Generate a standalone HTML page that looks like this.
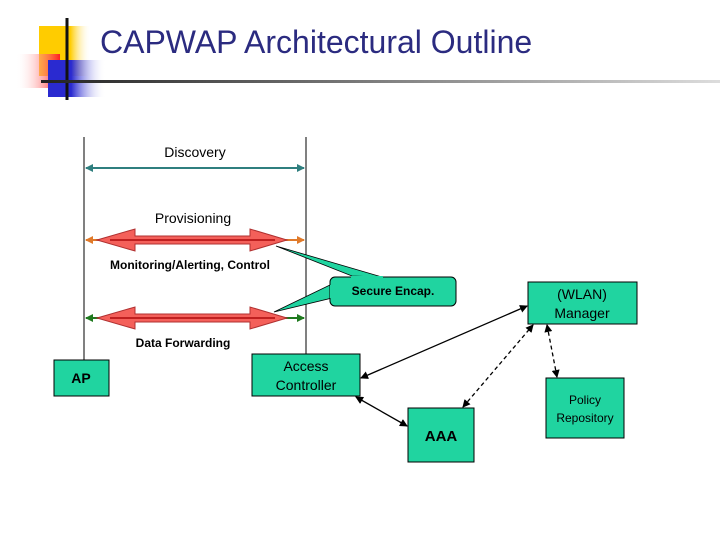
<!DOCTYPE html>
<html><head><style>
body{margin:0;width:720px;height:540px;background:#fff;overflow:hidden;font-family:"Liberation Sans",sans-serif}
</style></head><body>
<svg width="720" height="540" xmlns="http://www.w3.org/2000/svg" font-family="Liberation Sans, sans-serif">
<defs>
<linearGradient id="gy" x1="0" x2="1"><stop offset="0.6" stop-color="#ffcc00"/><stop offset="1" stop-color="#fff" stop-opacity="0"/></linearGradient>
<linearGradient id="gr" x1="1" x2="0"><stop offset="0" stop-color="#ff2020"/><stop offset="1" stop-color="#fff" stop-opacity="0"/></linearGradient>
<linearGradient id="gb" x1="0" x2="1"><stop offset="0.4" stop-color="#2a2ad0"/><stop offset="1" stop-color="#fff" stop-opacity="0"/></linearGradient>
<linearGradient id="gl" x1="0" x2="1"><stop offset="0" stop-color="#222"/><stop offset="1" stop-color="#ddd"/></linearGradient>
<marker id="ab" markerWidth="8" markerHeight="8" refX="7" refY="4" orient="auto-start-reverse" markerUnits="userSpaceOnUse"><path d="M0,0 L8,4 L0,8z" fill="#000"/></marker>
<marker id="at" markerWidth="8" markerHeight="8" refX="7" refY="4" orient="auto-start-reverse" markerUnits="userSpaceOnUse"><path d="M0,0 L8,4 L0,8z" fill="#2f7f7f"/></marker>
<marker id="ao" markerWidth="8" markerHeight="8" refX="7" refY="4" orient="auto-start-reverse" markerUnits="userSpaceOnUse"><path d="M0,0 L8,4 L0,8z" fill="#e07a2a"/></marker>
<marker id="ag" markerWidth="8" markerHeight="8" refX="7" refY="4" orient="auto-start-reverse" markerUnits="userSpaceOnUse"><path d="M0,0 L8,4 L0,8z" fill="#1f7a1f"/></marker>
</defs>
<rect x="39" y="26" width="52" height="50" fill="url(#gy)"/>
<rect x="16" y="54" width="44" height="34" fill="url(#gr)"/>
<rect x="48" y="60" width="58" height="37" fill="url(#gb)"/>
<line x1="67" y1="18" x2="67" y2="100" stroke="#111" stroke-width="3"/>
<rect x="41" y="80" width="680" height="3" fill="url(#gl)"/>
<text x="100" y="53" font-size="32" fill="#2b2b80">CAPWAP Architectural Outline</text>
<line x1="84" y1="137" x2="84" y2="360" stroke="#000"/>
<line x1="306" y1="137" x2="306" y2="354" stroke="#000"/>
<text x="195" y="157" font-size="14" text-anchor="middle">Discovery</text>
<line x1="86" y1="168" x2="304" y2="168" stroke="#2f7f7f" stroke-width="2" marker-start="url(#at)" marker-end="url(#at)"/>
<text x="193" y="223" font-size="14" text-anchor="middle">Provisioning</text>
<line x1="86" y1="240" x2="304" y2="240" stroke="#e07a2a" stroke-width="2" marker-start="url(#ao)" marker-end="url(#ao)"/>
<line x1="86" y1="318" x2="304" y2="318" stroke="#1f7a1f" stroke-width="2" marker-start="url(#ag)" marker-end="url(#ag)"/>
<path d="M97,240 L135,229 L135,236 L250,236 L250,229 L287,240 L250,251 L250,244 L135,244 L135,251Z" fill="#f4605a" stroke="#b03030"/>
<path d="M97,318 L135,307 L135,314 L250,314 L250,307 L287,318 L250,329 L250,322 L135,322 L135,329Z" fill="#f4605a" stroke="#b03030"/>
<line x1="110" y1="240" x2="275" y2="240" stroke="#c02020" stroke-width="2"/>
<line x1="110" y1="318" x2="275" y2="318" stroke="#c02020" stroke-width="2"/>
<text x="190" y="269" font-size="12" font-weight="bold" text-anchor="middle">Monitoring/Alerting, Control</text>
<text x="183" y="347" font-size="12" font-weight="bold" text-anchor="middle">Data Forwarding</text>
<path d="M276,246 L352,276 L382,277 Z" fill="#20d4a0" stroke="#000" stroke-width="0.8"/>
<path d="M274,312 L332,284 L332,298 Z" fill="#20d4a0" stroke="#000" stroke-width="0.8"/>
<rect x="330" y="277" width="126" height="29" rx="5" fill="#20d4a0" stroke="#000"/>
<path d="M351,277 L383,277 M331,285 L331,298" stroke="#20d4a0" stroke-width="2"/>
<text x="393" y="295" font-size="12" font-weight="bold" text-anchor="middle">Secure Encap.</text>
<rect x="54" y="360" width="55" height="36" fill="#20d4a0" stroke="#000"/>
<text x="81" y="383" font-size="14" font-weight="bold" text-anchor="middle">AP</text>
<rect x="252" y="354" width="108" height="42" fill="#20d4a0" stroke="#000"/>
<text x="306" y="371" font-size="14" text-anchor="middle">Access</text>
<text x="306" y="390" font-size="14" text-anchor="middle">Controller</text>
<rect x="528" y="282" width="109" height="42" fill="#20d4a0" stroke="#000"/>
<text x="582" y="299" font-size="14" text-anchor="middle">(WLAN)</text>
<text x="582" y="318" font-size="14" text-anchor="middle">Manager</text>
<rect x="546" y="378" width="78" height="60" fill="#20d4a0" stroke="#000"/>
<text x="585" y="404" font-size="12" text-anchor="middle">Policy</text>
<text x="585" y="422" font-size="12" text-anchor="middle">Repository</text>
<rect x="408" y="408" width="66" height="54" fill="#20d4a0" stroke="#000"/>
<text x="441" y="441" font-size="15" font-weight="bold" text-anchor="middle">AAA</text>
<line x1="361" y1="378" x2="527" y2="306" stroke="#000" stroke-width="1.3" marker-start="url(#ab)" marker-end="url(#ab)"/>
<line x1="356" y1="397" x2="407" y2="426" stroke="#000" stroke-width="1.3" marker-start="url(#ab)" marker-end="url(#ab)"/>
<line x1="463" y1="407" x2="533" y2="325" stroke="#000" stroke-width="1.3" stroke-dasharray="4,3" marker-start="url(#ab)" marker-end="url(#ab)"/>
<line x1="547" y1="325" x2="557" y2="377" stroke="#000" stroke-width="1.3" stroke-dasharray="4,3" marker-start="url(#ab)" marker-end="url(#ab)"/>
</svg>
</body></html>
